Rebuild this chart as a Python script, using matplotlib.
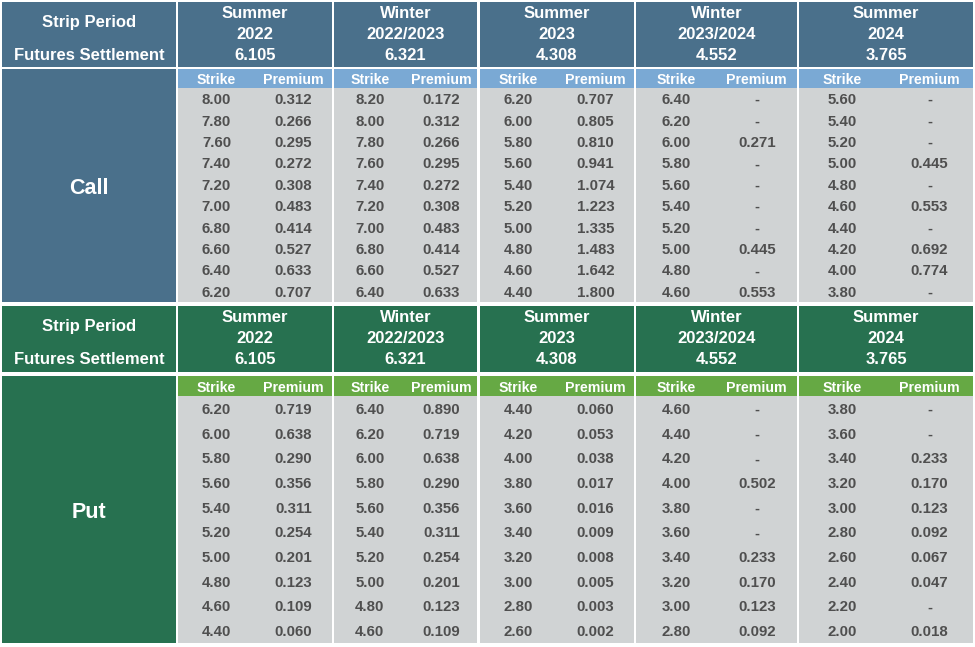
import matplotlib
matplotlib.use('Agg')
import matplotlib.pyplot as plt
from matplotlib.patches import Rectangle

plt.rcParams['font.family'] = ['Liberation Sans', 'DejaVu Sans']

periods = ['Summer\n2022', 'Winter\n2022/2023', 'Summer\n2023', 'Winter\n2023/2024', 'Summer\n2024']
settlements = [6.105, 6.321, 4.308, 4.552, 3.765]

call_strikes = [
    [8.00, 7.80, 7.60, 7.40, 7.20, 7.00, 6.80, 6.60, 6.40, 6.20],
    [8.20, 8.00, 7.80, 7.60, 7.40, 7.20, 7.00, 6.80, 6.60, 6.40],
    [6.20, 6.00, 5.80, 5.60, 5.40, 5.20, 5.00, 4.80, 4.60, 4.40],
    [6.40, 6.20, 6.00, 5.80, 5.60, 5.40, 5.20, 5.00, 4.80, 4.60],
    [5.60, 5.40, 5.20, 5.00, 4.80, 4.60, 4.40, 4.20, 4.00, 3.80],
]
call_premiums = [
    [0.312, 0.266, 0.295, 0.272, 0.308, 0.483, 0.414, 0.527, 0.633, 0.707],
    [0.172, 0.312, 0.266, 0.295, 0.272, 0.308, 0.483, 0.414, 0.527, 0.633],
    [0.707, 0.805, 0.810, 0.941, 1.074, 1.223, 1.335, 1.483, 1.642, 1.800],
    [None, None, 0.271, None, None, None, None, 0.445, None, 0.553],
    [None, None, None, 0.445, None, 0.553, None, 0.692, 0.774, None],
]

put_strikes = [
    [6.20, 6.00, 5.80, 5.60, 5.40, 5.20, 5.00, 4.80, 4.60, 4.40],
    [6.40, 6.20, 6.00, 5.80, 5.60, 5.40, 5.20, 5.00, 4.80, 4.60],
    [4.40, 4.20, 4.00, 3.80, 3.60, 3.40, 3.20, 3.00, 2.80, 2.60],
    [4.60, 4.40, 4.20, 4.00, 3.80, 3.60, 3.40, 3.20, 3.00, 2.80],
    [3.80, 3.60, 3.40, 3.20, 3.00, 2.80, 2.60, 2.40, 2.20, 2.00],
]
put_premiums = [
    [0.719, 0.638, 0.290, 0.356, 0.311, 0.254, 0.201, 0.123, 0.109, 0.060],
    [0.890, 0.719, 0.638, 0.290, 0.356, 0.311, 0.254, 0.201, 0.123, 0.109],
    [0.060, 0.053, 0.038, 0.017, 0.016, 0.009, 0.008, 0.005, 0.003, 0.002],
    [None, None, None, 0.502, None, None, 0.233, 0.170, 0.123, 0.092],
    [None, None, 0.233, 0.170, 0.123, 0.092, 0.067, 0.047, None, 0.018],
]

# column edges in pixels (left label column + one per strip period)
left_col = (2, 176)
col_edges = [(178, 332), (334, 477), (480, 634), (636, 797), (799, 973)]

TEXT_DARK = '#4f4f4f'
GRAY = '#d0d3d4'
DY = 1.5  # text sits a touch lower than the box centre

sections = [
    # label, strikes, premiums, header top, header bottom, sub top, sub bottom, data bottom, dark, light
    ('Call', call_strikes, call_premiums, 2, 67, 69, 88, 302, '#4a708b', '#7aa9d4'),
    ('Put', put_strikes, put_premiums, 306, 372, 376, 396, 643, '#277150', '#66a944'),
]

fig = plt.figure(figsize=(9.75, 6.47), dpi=100)
ax = fig.add_axes([0, 0, 1, 1])
ax.set_xlim(0, 975)
ax.set_ylim(647, 0)
ax.set_axis_off()


def box(x0, x1, y0, y1, color):
    ax.add_patch(Rectangle((x0, y0), x1 - x0, y1 - y0, facecolor=color, edgecolor='none'))


def label_text(x, y, s, size, color='white'):
    ax.text(x, y + DY, s, color=color, fontsize=size, fontweight='bold',
            ha='center', va='center')


for label, strikes, premiums, h0, h1, s0, s1, d1, dark, light in sections:
    # header row
    box(left_col[0], left_col[1], h0, h1, dark)
    lx = (left_col[0] + left_col[1]) / 2
    label_text(lx, h0 + 19, 'Strip Period', 12)
    label_text(lx, h0 + 52.5, 'Futures Settlement', 12)
    # label block
    box(left_col[0], left_col[1], s0, d1, dark)
    label_text(lx, (s0 + d1) / 2 + 2, label, 15.5)

    n_rows = len(strikes[0])
    row_h = (d1 - s1) / n_rows
    for i, (x0, x1) in enumerate(col_edges):
        cx = (x0 + x1) / 2
        w = x1 - x0
        box(x0, x1, h0, h1, dark)
        name_lines = periods[i].split('\n')
        label_text(cx, h0 + 9.5, name_lines[0], 12)
        label_text(cx, h0 + 31, name_lines[1], 12)
        label_text(cx, h0 + 52.5, f'{settlements[i]:.3f}', 12)

        box(x0, x1, s0, s1, light)
        sx = x0 + 0.25 * w
        px = x0 + 0.75 * w
        label_text(sx, (s0 + s1) / 2, 'Strike', 10.2)
        label_text(px, (s0 + s1) / 2, 'Premium', 10.2)

        box(x0, x1, s1, d1, GRAY)
        for r in range(n_rows):
            cy = s1 + (r + 0.5) * row_h
            label_text(sx, cy, f'{strikes[i][r]:.2f}', 10.8, TEXT_DARK)
            p = premiums[i][r]
            label_text(px, cy, '-' if p is None else f'{p:.3f}', 10.8, TEXT_DARK)

fig.savefig('out.png', dpi=100, facecolor='white')
